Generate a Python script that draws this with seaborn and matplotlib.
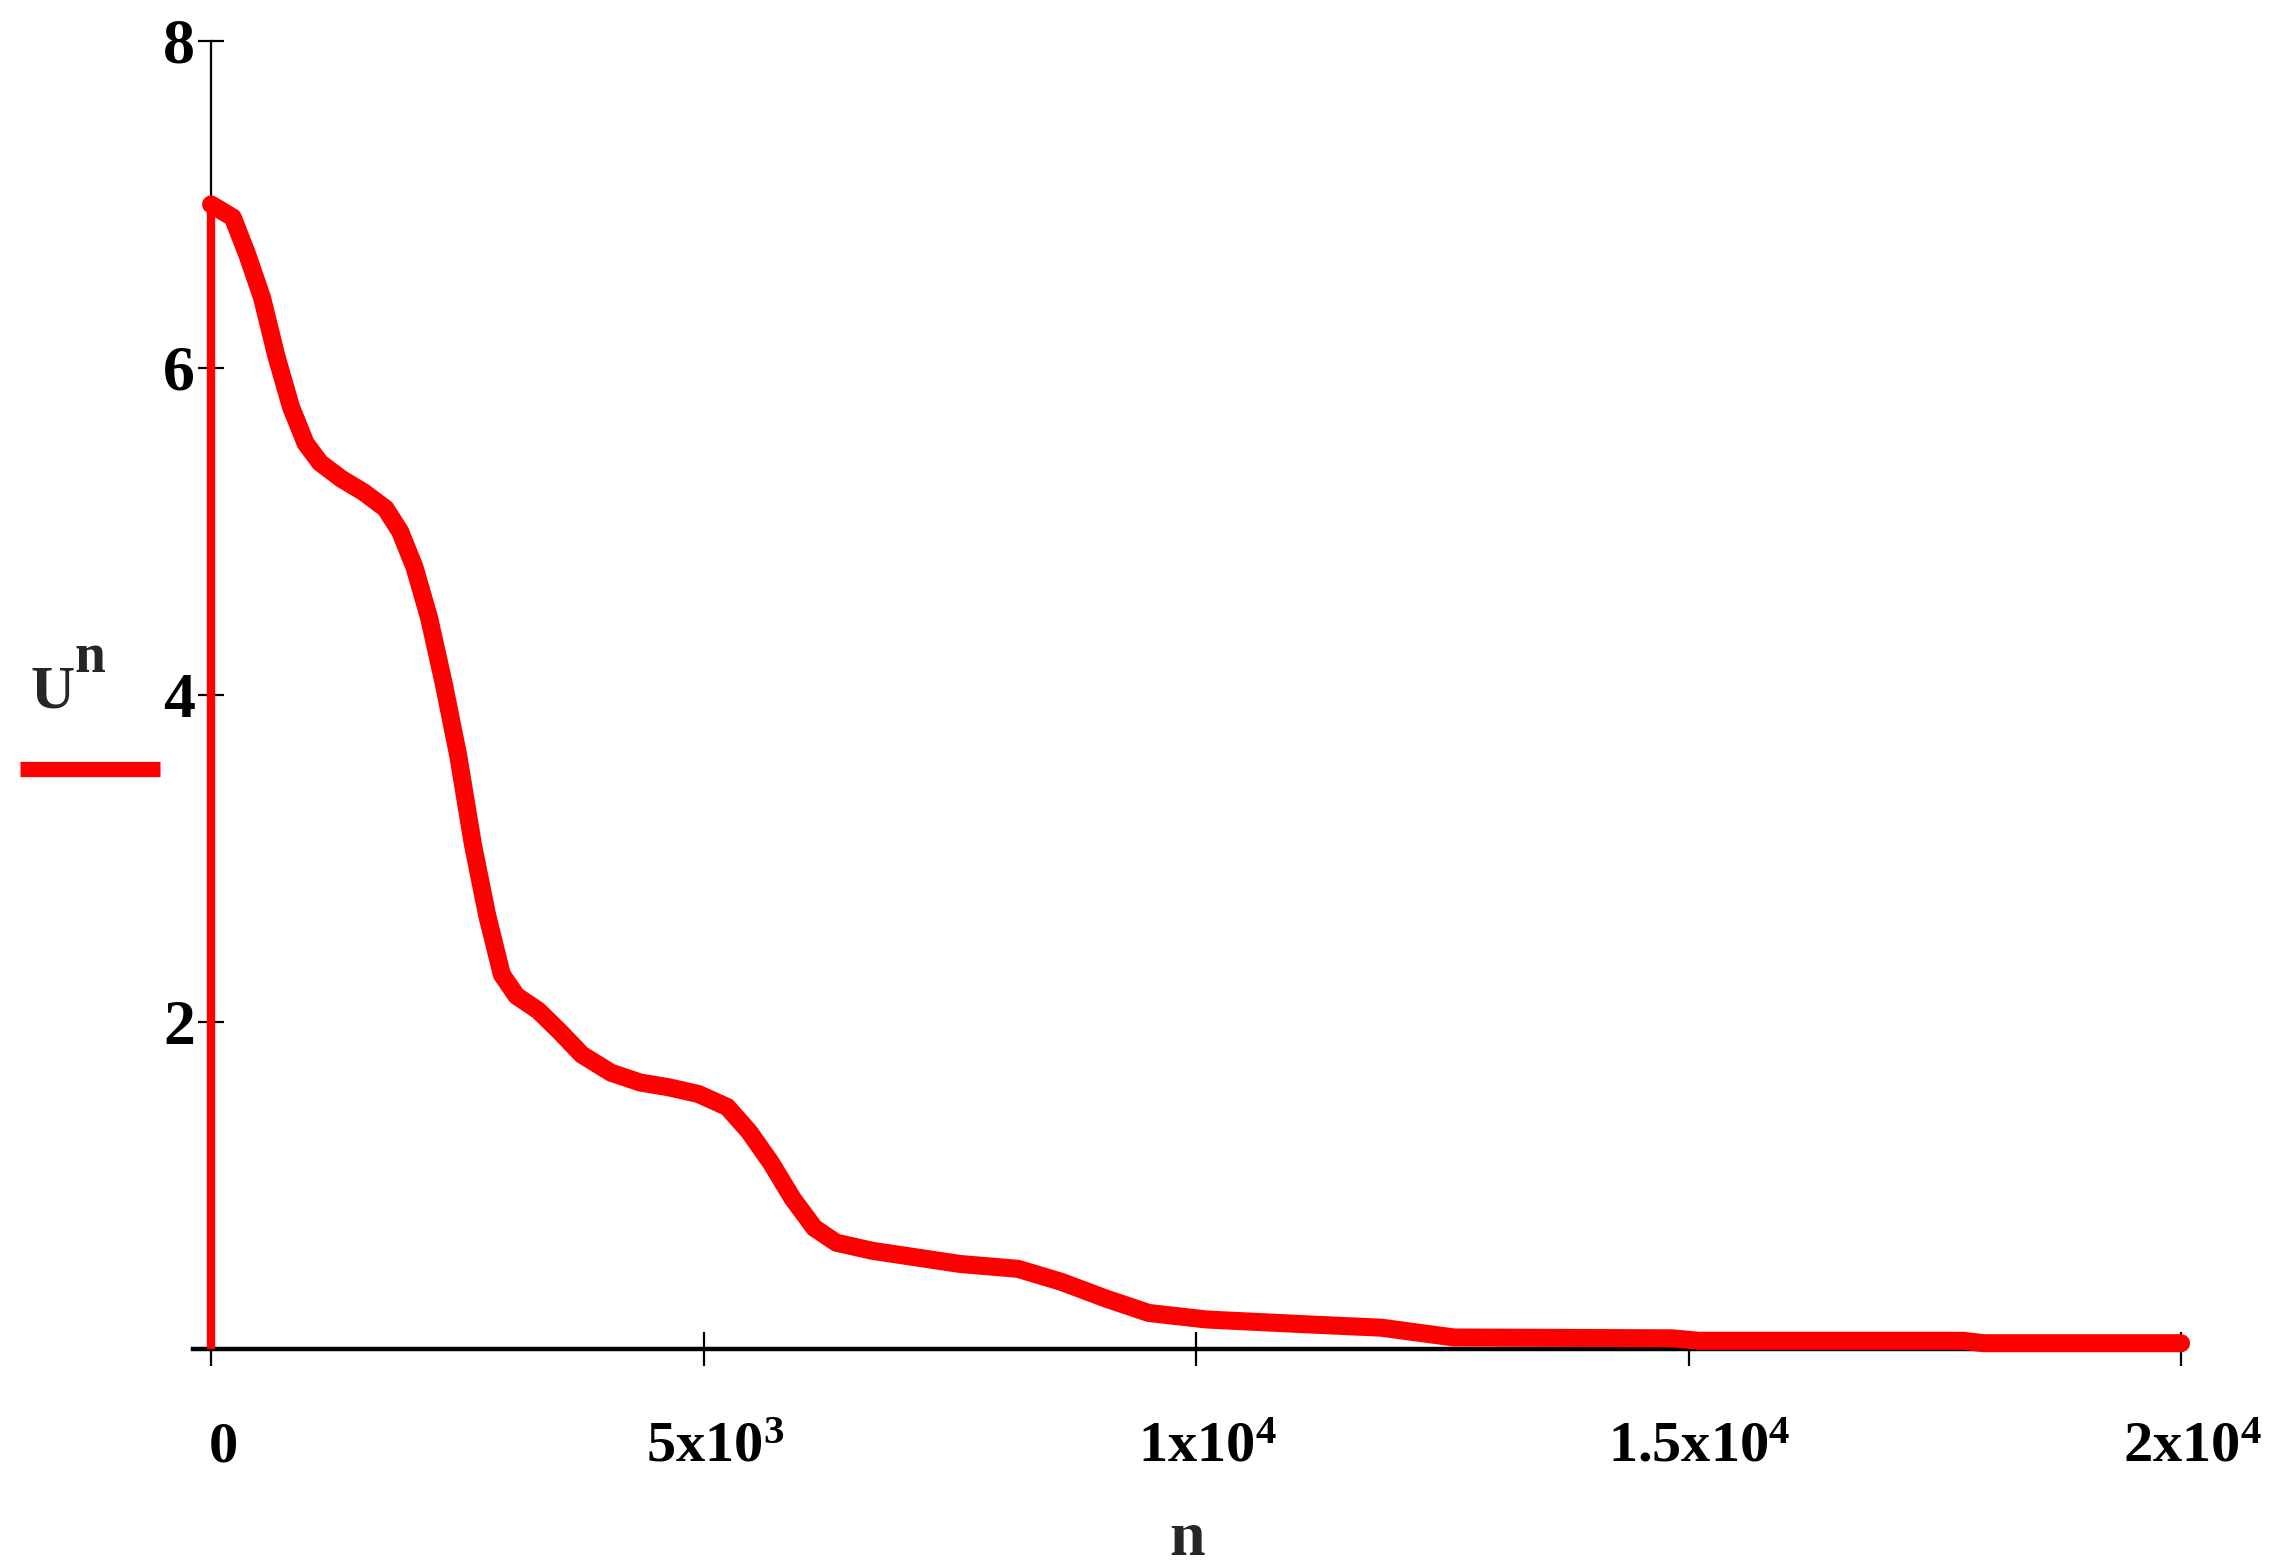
import numpy as np
import pandas as pd
import matplotlib
matplotlib.use("Agg")
import matplotlib.pyplot as plt
import matplotlib.transforms as mtransforms
from matplotlib.lines import Line2D
import seaborn as sns

# ---- data ----
n_vals = [0, 221, 369, 517, 664, 812, 959, 1107, 1328, 1550, 1771, 1919, 2066,
          2214, 2362, 2509, 2657, 2804, 2952, 3100, 3321, 3542, 3764, 4059,
          4354, 4649, 4945, 5240, 5461, 5683, 5904, 6125, 6347, 6716, 7159,
          7601, 8192, 8635, 9077, 9520, 10111, 11144, 11882, 12620, 14834,
          15100, 17786, 18000, 20000]
U_vals = [7.00, 6.92, 6.69, 6.43, 6.07, 5.76, 5.54, 5.42, 5.32, 5.24, 5.14,
          5.00, 4.78, 4.47, 4.07, 3.63, 3.09, 2.65, 2.29, 2.16, 2.07, 1.94,
          1.80, 1.69, 1.63, 1.60, 1.56, 1.48, 1.33, 1.14, 0.92, 0.74, 0.65,
          0.60, 0.56, 0.52, 0.49, 0.41, 0.31, 0.22, 0.18, 0.15, 0.13, 0.07,
          0.065, 0.05, 0.05, 0.035, 0.035]
x_ticks = [0, 5000, 10000, 15000, 20000]
x_tick_labels = [r"$0$", r"$5x10^{3}$", r"$1x10^{4}$", r"$1.5x10^{4}$", r"$2x10^{4}$"]
y_ticks = [2, 4, 6, 8]
y_tick_labels = ["2", "4", "6", "8"]

df = pd.DataFrame({"n": n_vals, "U": U_vals})

sns.set_style("white")
plt.rcParams["font.family"] = ["Liberation Serif", "DejaVu Serif"]
plt.rcParams["font.weight"] = "bold"
plt.rcParams["mathtext.fontset"] = "custom"
plt.rcParams["mathtext.rm"] = "Liberation Serif:bold"
plt.rcParams["mathtext.it"] = "Liberation Serif:bold"
plt.rcParams["mathtext.bf"] = "Liberation Serif:bold"

fig = plt.figure(figsize=(22.8, 15.68), dpi=100)
ax = fig.add_axes([0.0848, 0.1397, 0.9566 - 0.0848, 0.9739 - 0.1397])

red = "#ff0000"
sns.lineplot(data=df, x="n", y="U", ax=ax, color=red, linewidth=13,
             sort=True, estimator=None, zorder=5, clip_on=False)
# vertical segment from the axis up to the first value
ax.plot([n_vals[0], n_vals[0]], [0, U_vals[0]], color=red, linewidth=6,
        zorder=5, clip_on=False, solid_capstyle="butt")

ax.set_xlim(-180, 20000)
ax.set_ylim(0, 8)

for s in ["top", "right"]:
    ax.spines[s].set_visible(False)
ax.spines["left"].set_position(("data", 0))
ax.spines["left"].set_linewidth(1.6)
ax.spines["left"].set_color("black")
ax.spines["bottom"].set_linewidth(3.2)
ax.spines["bottom"].set_color("black")
ax.spines["bottom"].set_zorder(2)

ax.set_xticks(x_ticks)
ax.set_xticklabels(x_tick_labels, fontsize=42)
ax.set_yticks(y_ticks)
ax.set_yticklabels(y_tick_labels, fontsize=46, fontweight="bold")
ax.tick_params(axis="x", direction="inout", length=24, width=1.6,
               pad=40, colors="black", bottom=True)
ax.tick_params(axis="y", direction="inout", length=19, width=1.6, pad=2,
               colors="black", left=True)
shift = mtransforms.ScaledTranslation(8 / 72, 0, fig.dpi_scale_trans)
for lab in ax.get_xticklabels():
    lab.set_transform(lab.get_transform() + shift)

ax.set_xlabel("n", fontsize=46, fontweight="bold", labelpad=27)
ax.set_ylabel("")

# Mathcad-style trace label at the left
fig.text(0.0132, 0.5485, "U", fontsize=44, ha="left", va="baseline")
fig.text(0.0325, 0.5714, "n", fontsize=40, ha="left", va="baseline")
fig.add_artist(Line2D([0.0088, 0.0700], [0.5096, 0.5096], color=red,
                      linewidth=11, solid_capstyle="butt",
                      transform=fig.transFigure))

fig.savefig("out.png", dpi=100)
